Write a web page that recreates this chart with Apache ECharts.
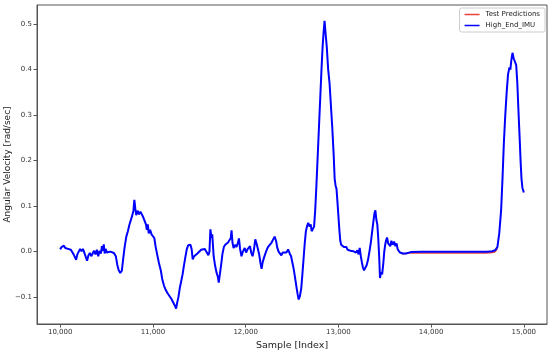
<!DOCTYPE html>
<html>
<head>
<meta charset="utf-8">
<script src="https://cdn.jsdelivr.net/npm/echarts@6/dist/echarts.min.js"></script>
<style>html,body{margin:0;padding:0;background:#fff}#c{width:550px;height:353px}</style>
</head>
<body>
<div id="c"></div>
<script>
const seriesNames = ['Test Predictions', 'High_End_IMU'];
const xTicks = [10000, 11000, 12000, 13000, 14000, 15000];
const yTicks = [-0.1, 0.0, 0.1, 0.2, 0.3, 0.4, 0.5];

const imuSample = [
10000,10015,10025,10040,10055,10070,10085,10100,10115,10130,10145,10160,10172,10185,10200,10215,10230,10245,10260,10275,
10290,10305,10320,10335,10350,10365,10380,10395,10410,10425,10440,10450,10460,10470,10480,10490,10505,10520,10540,10560,
10580,10600,10615,10630,10648,10665,10680,10695,10713,10730,10745,10760,10775,10790,10800,10810,10820,10835,10850,10865,
10880,10895,10910,10925,10935,10945,10955,10970,10985,11000,11015,11030,11050,11065,11086,11100,11120,11140,11160,11180,
11200,11215,11230,11240,11250,11262,11275,11290,11305,11320,11335,11350,11365,11380,11391,11405,11418,11429,11445,11460,
11480,11500,11520,11540,11560,11580,11598,11610,11620,11632,11640,11655,11670,11685,11700,11710,11722,11735,11750,11765,
11780,11795,11810,11825,11840,11848,11858,11870,11885,11900,11915,11928,11940,11955,11970,11990,12005,12020,12035,12047,
12060,12075,12090,12104,12118,12130,12145,12160,12172,12185,12200,12220,12240,12260,12280,12300,12313,12328,12340,12355,
12370,12385,12400,12420,12440,12458,12475,12490,12505,12520,12535,12550,12562,12572,12585,12600,12612,12625,12638,12650,
12662,12675,12690,12702,12712,12725,12738,12750,12762,12775,12790,12805,12818,12830,12840,12851,12862,12875,12890,12905,
12920,12935,12950,12960,12970,12980,12990,13000,13010,13020,13030,13045,13060,13075,13087,13100,13115,13130,13145,13160,
13175,13190,13205,13218,13230,13242,13255,13265,13277,13292,13305,13320,13335,13350,13365,13380,13390,13399,13410,13420,
13430,13440,13449,13460,13472,13485,13495,13505,13515,13525,13537,13548,13560,13572,13585,13601,13615,13628,13640,13652,
13665,13680,13695,13710,13730,13750,13780,13800,13900,14000,14100,14200,14300,14400,14500,14600,14660,14690,14715,14735,
14755,14770,14785,14800,14815,14830,14845,14855,14865,14878,14890,14905,14918,14930,14942,14955,14965,14975,14985,14993,15000
];
const imuValue = [
0.005,0.010,0.006,0.013,0.008,0.012,0.006,0.010,0.004,0.002,-0.006,-0.004,-0.018,-0.006,-0.002,0.006,0.001,0.006,-0.002,0.002,
-0.020,-0.008,-0.003,-0.010,-0.004,0.002,-0.006,0.004,-0.010,0.002,-0.004,0.012,0.002,0.016,-0.004,0.006,-0.002,0.002,0.000,0.002,
-0.003,-0.010,-0.028,-0.040,-0.047,-0.042,-0.015,0.010,0.033,0.045,0.058,0.062,0.078,0.090,0.114,0.095,0.080,0.090,0.082,0.088,
0.084,0.076,0.072,0.060,0.048,0.060,0.040,0.048,0.038,0.040,0.030,0.010,-0.010,-0.025,-0.042,-0.060,-0.075,-0.085,-0.092,-0.098,
-0.104,-0.110,-0.114,-0.120,-0.125,-0.112,-0.100,-0.080,-0.065,-0.050,-0.030,-0.012,0.005,0.014,0.017,0.015,0.005,-0.017,-0.010,-0.008,
-0.004,-0.002,0.004,0.008,0.006,0.002,-0.008,0.000,0.049,0.030,0.038,-0.010,-0.030,-0.045,-0.055,-0.068,-0.050,-0.030,-0.005,0.010,
0.015,0.012,0.020,0.018,0.030,0.047,0.020,0.008,0.015,0.010,0.018,0.029,0.006,-0.010,0.000,0.008,-0.002,0.005,0.004,0.012,
-0.002,-0.010,0.005,0.027,0.018,0.022,-0.005,-0.025,-0.038,-0.022,-0.012,0.000,0.010,0.015,0.020,0.028,0.033,0.024,0.010,0.000,
-0.002,-0.008,-0.002,-0.006,-0.002,0.005,-0.004,-0.010,-0.025,-0.040,-0.060,-0.080,-0.095,-0.105,-0.098,-0.080,-0.050,-0.015,0.020,0.045,
0.056,0.063,0.055,0.060,0.045,0.042,0.055,0.090,0.140,0.200,0.270,0.340,0.400,0.450,0.480,0.507,0.480,0.450,0.400,0.370,
0.320,0.270,0.210,0.160,0.145,0.138,0.110,0.080,0.050,0.025,0.015,0.018,0.010,0.006,0.010,0.004,0.006,0.002,0.006,0.001,
0.004,-0.002,0.003,-0.006,0.008,-0.010,-0.025,-0.035,-0.041,-0.038,-0.030,-0.018,0.000,0.020,0.045,0.070,0.085,0.091,0.070,0.060,
0.030,-0.010,-0.058,-0.045,-0.050,-0.025,0.000,0.015,0.025,0.031,0.018,0.022,0.012,0.024,0.015,0.022,0.012,0.018,0.005,0.008,
-0.002,0.002,-0.004,-0.002,-0.004,-0.001,-0.001,0.000,0.000,0.000,0.000,0.000,0.000,0.000,0.000,0.000,0.001,0.003,0.010,0.040,
0.090,0.160,0.240,0.300,0.350,0.390,0.405,0.400,0.420,0.437,0.425,0.425,0.410,0.370,0.310,0.250,0.200,0.160,0.140,0.135,0.130
];

const predSample = [13690,13720,13760,13800,13900,14000,14100,14200,14300,14400,14500,14600,14660,14690,14715];
const predValue  = [-0.005,-0.004,-0.003,-0.003,-0.003,-0.003,-0.003,-0.003,-0.003,-0.003,-0.003,-0.003,-0.002,0.000,0.007];

const pairs = (xs, ys) => xs.map((x, i) => [x, ys[i]]);
const fmtX = v => String(Math.round(v)).replace(/\B(?=(\d{3})+(?!\d))/g, ',');
const fmtY = v => v.toFixed(1).replace('-', '\u2212');
const FONT = 'DejaVu Sans';

const chart = echarts.init(document.getElementById('c'), null, {renderer: 'canvas'});
chart.setOption({
  animation: false,
  backgroundColor: '#fff',
  textStyle: {fontFamily: FONT},
  grid: {left: 37, right: 3, top: 5, bottom: 29, show: true, borderColor: '#555', borderWidth: 1,
         containLabel: false, outerBoundsMode: 'none'},
  legend: {
    data: [{name: seriesNames[0], icon: 'rect'}, {name: seriesNames[1], icon: 'rect'}],
    orient: 'vertical', right: 5, top: 8,
    backgroundColor: '#fff', borderColor: '#ccc', borderWidth: 1, borderRadius: 2,
    padding: [3, 5, 3, 5], itemGap: 4, itemWidth: 15, itemHeight: 1.5,
    textStyle: {fontSize: 7, color: '#222', fontFamily: FONT, padding: [0, 0, 0, 1]}
  },
  xAxis: {
    type: 'value', min: 9750, max: 15250,
    name: 'Sample [Index]', nameLocation: 'middle', nameGap: 17, nameMoveOverlap: false,
    nameTextStyle: {fontSize: 9.5, color: '#222', fontFamily: FONT},
    axisLine: {show: true, onZero: false, lineStyle: {color: '#555', width: 1}},
    axisTick: {show: true, length: 3.5, lineStyle: {color: '#555'}, customValues: xTicks},
    axisLabel: {fontSize: 7, color: '#333', margin: 5, formatter: fmtX, customValues: xTicks},
    splitLine: {show: false}
  },
  yAxis: {
    type: 'value', min: -0.159, max: 0.542,
    name: 'Angular Velocity [rad/sec]', nameLocation: 'middle', nameGap: 25, nameMoveOverlap: false,
    nameTextStyle: {fontSize: 9, color: '#222', fontFamily: FONT},
    axisLine: {show: true, onZero: false, lineStyle: {color: '#555', width: 1}},
    axisTick: {show: true, length: 3.5, lineStyle: {color: '#555'}, customValues: yTicks},
    axisLabel: {fontSize: 7, color: '#333', margin: 5, formatter: fmtY, customValues: yTicks},
    splitLine: {show: false}
  },
  series: [
    {name: seriesNames[0], type: 'line', data: pairs(predSample, predValue), showSymbol: false, symbol: 'none',
     lineStyle: {color: '#e8403a', width: 1.6}, itemStyle: {color: '#e8403a'}},
    {name: seriesNames[1], type: 'line', data: pairs(imuSample, imuValue), showSymbol: false, symbol: 'none',
     lineStyle: {color: '#0000ff', width: 2}, itemStyle: {color: '#0000ff'}}
  ]
});
</script>
</body>
</html>
